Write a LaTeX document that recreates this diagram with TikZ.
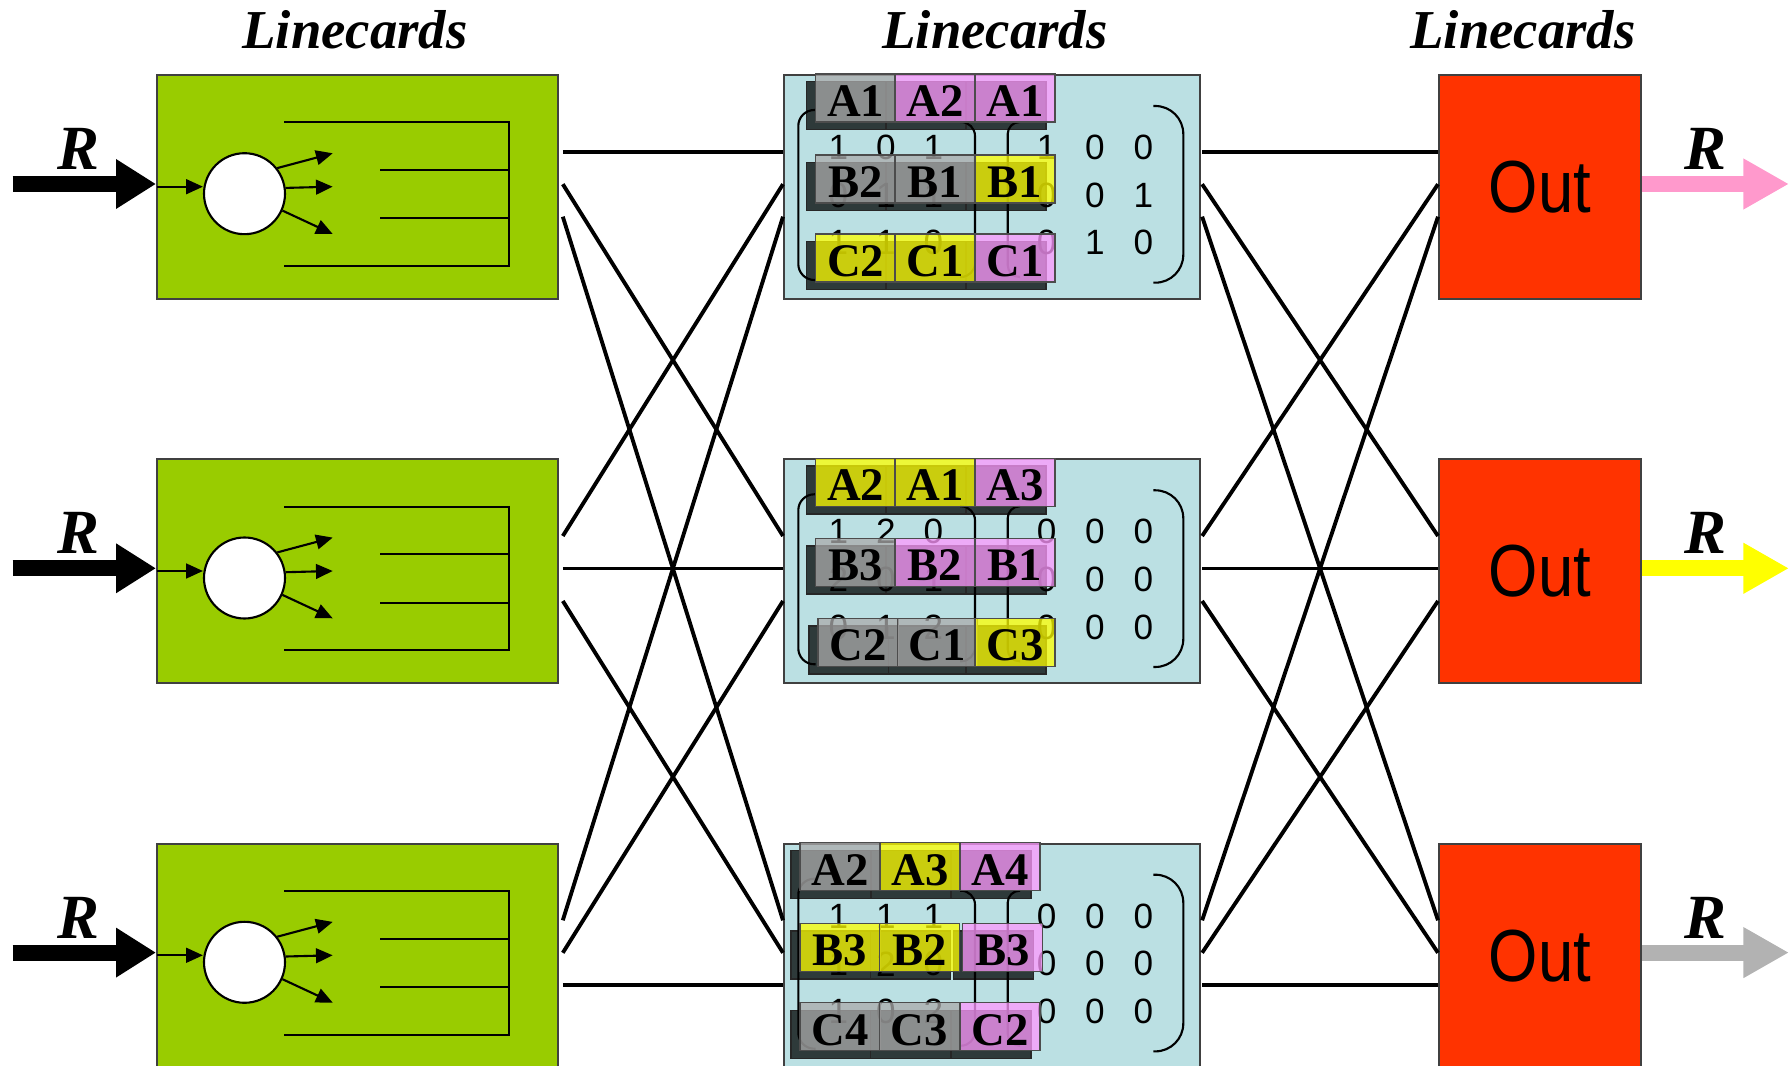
\documentclass[tikz,border=0pt]{standalone}
\usepackage{graphicx}
\usepackage{fontspec}
\setmainfont{Liberation Serif}
\setsansfont{Liberation Sans}
\usetikzlibrary{arrows.meta,positioning,calc}
\pgfdeclarelayer{front}
\pgfsetlayers{main,front}

\definecolor{cardgreen}{HTML}{99CC00}
\definecolor{fabricblue}{HTML}{BBE0E3}
\definecolor{outred}{HTML}{FF3300}
\definecolor{slotgray}{HTML}{ABABAB}
\definecolor{slotyellow}{HTML}{FFFF00}
\definecolor{slotpink}{HTML}{FF99FF}
\definecolor{slotshade}{HTML}{2E3A3A}
\definecolor{outpink}{HTML}{FF99CC}
\definecolor{outyellow}{HTML}{FFFF00}
\definecolor{outgray}{HTML}{B2B2B2}

\tikzset{
  card/.style={draw=black!75, line width=0.6pt, inner sep=0pt, anchor=north west, minimum height=2.24cm},
  link/.style={line width=1.1pt},
  thinline/.style={line width=0.6pt},
  feedarrow/.style={thinline, -{Triangle[length=0.167cm,width=0.147cm]}},
  bigarrow/.style={line width=0.16cm, -{Triangle[length=0.4cm,width=0.47cm]}},
  cardtitle/.style={font=\bfseries\itshape\fontsize{15.6}{16}\selectfont, anchor=base},
  rate/.style={font=\bfseries\itshape\fontsize{17.9}{18}\selectfont},
  slotshadow/.style={fill=slotshade, draw=black!85, line width=0.4pt},
  slotbox/.style={fill opacity=0.75, draw=black!70, line width=0.4pt},
  slottext/.style={font=\bfseries\fontsize{13.3}{14}\selectfont, anchor=base, inner sep=0pt},
  digit/.style={font=\sffamily\fontsize{10}{10}\selectfont, inner sep=0pt},
  matbracket/.style={thinline}
}

% one cell of a VOQ: dark copy behind, coloured cell in front
\newcommand{\slot}[4]{%
  \filldraw[slotshadow] (#1-0.09,#2-0.077) rectangle ++(0.8,-0.48);
  \begin{pgfonlayer}{front}
    \filldraw[slotbox, fill=#3] (#1,#2) rectangle ++(0.8,-0.48);
    \node[slottext] (tag) at (#1+0.4,#2-0.427) {#4};
  \end{pgfonlayer}}

% the two 3x3 matrices of a switch card, #1 = top of the card
\newcommand{\weights}[4]{%
  \foreach \row [count=\k] in {{#2},{#3},{#4}} {
    \pgfmathsetmacro\ry{#1-0.733-0.478*(\k-1)}
    \foreach \v [count=\n] in \row {
      \pgfmathsetmacro\cx{\n<4 ? 8.383+0.475*(\n-1) : 10.467+0.483*(\n-4)}
      \node[digit] (d\k\n) at (\cx,\ry) {\v};
    }
  }
  \draw[matbracket, rounded corners=0.16cm] (8.157,#1-0.36) -- (7.983,#1-0.36) -- (7.983,#1-2.06) -- (8.157,#1-2.06);
  \draw[matbracket, rounded corners=0.14cm] (9.60,#1-0.48) -- (9.75,#1-0.48) -- (9.75,#1-2.03) -- (9.60,#1-2.03);
  \draw[matbracket, rounded corners=0.12cm] (10.20,#1-0.48) -- (10.077,#1-0.48) -- (10.077,#1-2.03) -- (10.20,#1-2.03);
  \draw[matbracket, rounded corners=0.28cm] (11.533,#1-0.32) -- (11.833,#1-0.32) -- (11.833,#1-2.087) -- (11.533,#1-2.087);
}

\begin{document}
\begin{tikzpicture}
  \useasboundingbox (0,0) rectangle (17.89,-10.66);

  \foreach \x [count=\k] in {3.55,9.95,15.23}
    \node[cardtitle] (head\k) at (\x,-0.49) {Linecards};

  \foreach \r/\oc in {1/outpink,2/outyellow,3/outgray} {
    \pgfmathsetmacro\y{-0.74-3.843*(\r-1)}
    % input linecard
    \node[card, fill=cardgreen, minimum width=4.01cm] (in\r) at (1.56,\y) {};
    \node[circle, draw, thinline, fill=white, minimum size=0.81cm, inner sep=0pt] (sw\r) at (2.445,\y-1.197) {};
    \coordinate (rin\r) at (0.127,\y-1.10);
    \coordinate (feed\r) at (1.567,\y-1.127);
    \coordinate (qa\r) at (3.327,\y-0.793);
    \coordinate (qb\r) at (3.327,\y-1.127);
    \coordinate (qc\r) at (3.327,\y-1.60);
    \draw[bigarrow] (rin\r) -- (rin\r -| in\r.west);
    \node[rate] (rl\r) at (0.78,\y-0.75) {R};
    \draw[feedarrow] (feed\r) -- (feed\r -| sw\r.west);
    \draw[feedarrow] (sw\r.38) -- (qa\r);
    \draw[feedarrow] (sw\r.8) -- (qb\r);
    \draw[feedarrow] (sw\r.336) -- (qc\r);
    % queues
    \draw[thinline] (2.84,\y-0.483) -- (5.093,\y-0.483) -- (5.093,\y-1.92) -- (2.84,\y-1.92);
    \draw[thinline] (3.80,\y-0.96) -- (5.093,\y-0.96);
    \draw[thinline] (3.80,\y-1.443) -- (5.093,\y-1.443);
    % switch card and output card
    \node[card, fill=fabricblue, minimum width=4.16cm] (mid\r) at (7.83,\y) {};
    \node[card, fill=outred, minimum width=2.02cm, font=\sffamily\fontsize{21}{21}\selectfont] (out\r) at (14.38,\y) {\scalebox{0.86}[1]{Out}};
    \coordinate (rout\r) at (17.89,\y-1.10);
    \draw[bigarrow, draw=\oc, -{Triangle[length=0.457cm,width=0.477cm]}] (rout\r -| out\r.east) -- (rout\r);
    \node[rate] (rr\r) at (17.05,\y-0.75) {R};
  }

  % mesh between the stages
  \foreach \i in {1,2,3}
    \foreach \j in {1,2,3} {
      \draw[link] ($(in\i.north east)+(0.037,{-0.777-0.325*(\j-1)})$) -- ($(mid\j.north west)+(0,{-0.777-0.325*(\i-1)})$);
      \draw[link] ($(mid\i.north east)+(0.01,{-0.777-0.325*(\j-1)})$) -- ($(out\j.north west)+(0,{-0.777-0.325*(\i-1)})$);
    }

  % switch card 1
  \foreach \x/\y/\col/\lbl in {8.157/-0.74/slotgray/A1, 8.95/-0.74/slotpink/A2, 9.75/-0.74/slotpink/A1,
      8.157/-1.55/slotgray/B2, 8.95/-1.55/slotgray/B1, 9.75/-1.55/slotyellow/B1,
      8.157/-2.34/slotyellow/C2, 8.95/-2.34/slotyellow/C1, 9.75/-2.34/slotpink/C1}
    \slot{\x}{\y}{\col}{\lbl};
  \weights{-0.74}{1,0,1,1,0,0}{0,1,1,0,0,1}{1,1,0,0,1,0}

  % switch card 2
  \foreach \x/\y/\col/\lbl in {8.157/-4.583/slotyellow/A2, 8.95/-4.583/slotyellow/A1, 9.75/-4.583/slotpink/A3,
      8.157/-5.383/slotgray/B3, 8.95/-5.383/slotpink/B2, 9.75/-5.383/slotpink/B1,
      8.18/-6.183/slotgray/C2, 8.973/-6.183/slotgray/C1, 9.75/-6.183/slotyellow/C3}
    \slot{\x}{\y}{\col}{\lbl};
  \weights{-4.583}{1,2,0,0,0,0}{2,0,1,0,0,0}{0,1,2,0,0,0}

  % switch card 3
  \foreach \x/\y/\col/\lbl in {8.0/-8.427/slotgray/A2, 8.8/-8.427/slotyellow/A3, 9.6/-8.427/slotpink/A4,
      8.0/-9.233/slotyellow/B3, 8.793/-9.233/slotyellow/B2, 9.627/-9.233/slotpink/B3,
      8.0/-10.027/slotgray/C4, 8.793/-10.027/slotgray/C3, 9.6/-10.027/slotpink/C2}
    \slot{\x}{\y}{\col}{\lbl};
  \weights{-8.427}{1,1,1,0,0,0}{1,2,0,0,0,0}{1,0,2,0,0,0}
\end{tikzpicture}
\end{document}
